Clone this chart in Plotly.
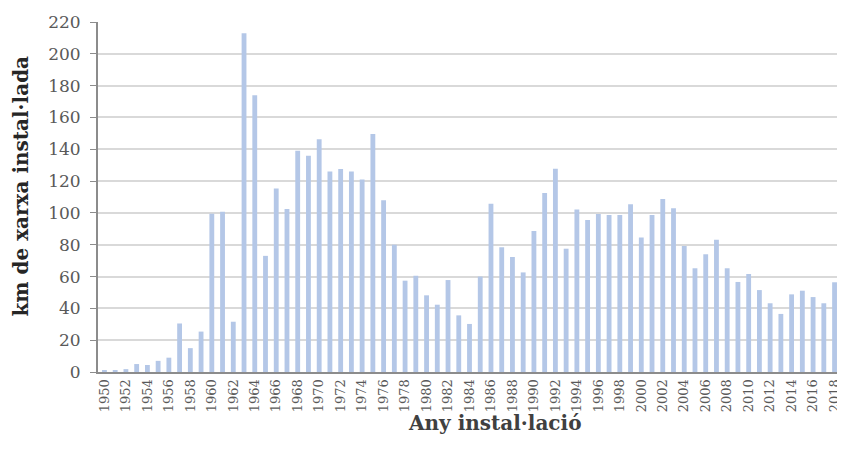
import plotly.graph_objects as go

years = list(range(1950, 2019))
km_installed = [
    1, 1, 1.8, 5, 4.4, 7, 9, 30.5, 15, 25.4,
    99.4, 100.8, 31.6, 212.9, 174, 73, 115.4, 102.5, 139.1, 136,
    146.3, 126, 127.6, 126, 121, 149.6, 108, 80, 57.4, 60.5,
    48.2, 42.3, 57.8, 35.6, 30.2, 60, 105.8, 78.4, 72.3, 62.6,
    88.6, 112.5, 127.8, 77.5, 102.2, 95.5, 99.3, 98.7, 98.7, 105.4,
    84.6, 98.7, 108.7, 103, 79.2, 65.2, 74, 83.2, 65.2, 56.6,
    61.6, 51.5, 43.2, 36.5, 48.8, 51.1, 47.1, 43.2, 56.4,
]
tick_years = years[::2]

fig = go.Figure(
    go.Bar(
        x=years,
        y=km_installed,
        marker_color="#b4c7e7",
        marker_line_width=0,
    )
)

# the page body adds an 8px margin, so the figure is shrunk to fit the window
serif = "DejaVu Serif"
fig.update_layout(
    width=836,
    height=455,
    margin=dict(l=90, r=3, t=14, b=91),
    paper_bgcolor="white",
    plot_bgcolor="white",
    bargap=0.55,
    showlegend=False,
    font=dict(family=serif, color="#595959"),
)
fig.update_xaxes(
    range=[1949.4, 2018.6],
    tickvals=tick_years,
    ticktext=[str(y) for y in tick_years],
    tickangle=-90,
    tickfont=dict(size=13, family=serif, color="#595959"),
    showline=True,
    linecolor="#8c8c8c",
    linewidth=2,
    showgrid=False,
    ticks="",
)
fig.update_yaxes(
    range=[0, 220],
    dtick=20,
    tickfont=dict(size=17, family=serif, color="#595959"),
    showline=True,
    linecolor="#8c8c8c",
    linewidth=2,
    showgrid=True,
    gridcolor="#d9d9d9",
    gridwidth=1.5,
    ticks="outside",
    ticklen=6,
    tickcolor="#8c8c8c",
    ticklabelstandoff=6,
    zeroline=False,
)

# axis titles as annotations so they sit where the original puts them
fig.add_annotation(
    text="<b>Any instal·lació</b>",
    xref="paper", yref="paper", x=0.533, y=0,
    xanchor="center", yanchor="middle", yshift=-51,
    showarrow=False,
    font=dict(size=20, family=serif, color="#404040"),
)
fig.add_annotation(
    text="<b>km de xarxa instal·lada</b>",
    xref="paper", yref="paper", x=0, y=0.53,
    xanchor="center", yanchor="middle", xshift=-78,
    textangle=-90,
    showarrow=False,
    font=dict(size=20, family=serif, color="#262626"),
)

fig.write_html("out.html")
